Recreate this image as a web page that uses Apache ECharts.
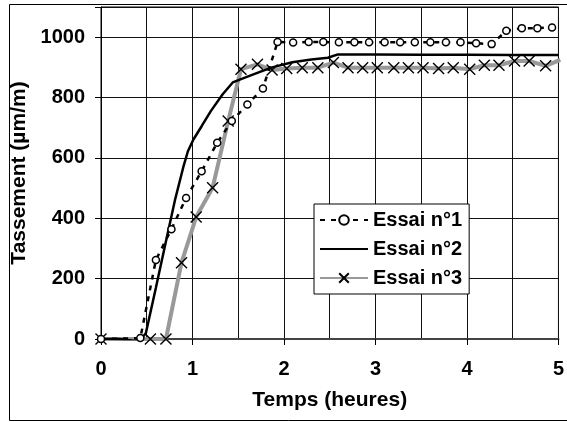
<!DOCTYPE html>
<html>
  <head>
    <meta charset="UTF-8">
    <title>tassement</title>
    <script src="https://cdn.jsdelivr.net/npm/echarts@6/dist/echarts.min.js"></script>
  </head>
  <body style="margin:0;background:#fff;">
	<div id="main" style="width: 567px;height:422px;"></div>
	<script>
// temps (heures) / tassement (µm/m)
var t1 = [0, 0.43, 0.6, 0.77, 0.93, 1.1, 1.27, 1.43, 1.6, 1.77, 1.93, 2.1, 2.27, 2.43, 2.6, 2.77, 2.93, 3.1, 3.27, 3.43, 3.6, 3.77, 3.93, 4.1, 4.27, 4.43, 4.6, 4.77, 4.93];
var v1 = [0, 3, 262, 364, 467, 556, 650, 722, 777, 830, 984, 982, 984, 984, 983, 983, 983, 983, 983, 983, 983, 983, 983, 980, 977, 1021, 1030, 1030, 1032];

var t2 = [0, 0.2, 0.36, 0.43, 0.49, 0.6, 0.7, 0.81, 0.9, 0.95, 1.01, 1.1, 1.2, 1.33, 1.44, 1.53, 1.73, 1.87, 2.09, 2.3, 2.48, 2.59, 3.0, 3.5, 4.0, 4.5, 5.0];
var v2 = [0, 0, -6, -3, 19, 170, 310, 462, 570, 622, 661, 705, 755, 811, 850, 861, 884, 900, 917, 926, 932, 943, 943, 942, 942, 941, 941];

var t3 = [0, 0.54, 0.71, 0.88, 1.04, 1.22, 1.39, 1.53, 1.71, 1.87, 2.03, 2.2, 2.37, 2.54, 2.7, 2.86, 3.02, 3.2, 3.36, 3.52, 3.69, 3.85, 4.03, 4.19, 4.35, 4.52, 4.68, 4.86, 5.02];
var v3 = [0, 0, 0, 253, 404, 501, 722, 894, 910, 891, 896, 899, 899, 916, 899, 899, 899, 899, 899, 899, 896, 899, 894, 907, 907, 921, 921, 905, 925];

var noms = ['Essai n°1', 'Essai n°2', 'Essai n°3'];

function pts(t, v) {
	var d = [];
	for (var i = 0; i < t.length; i++) {
		d.push([t[i], v[i]]);
	}
	return d;
}

var font = 'Liberation Sans, Arial, sans-serif';
var txt = { fontFamily: font, fontWeight: 'bold', fontSize: 21, color: '#000' };
var myChart = echarts.init(document.getElementById('main'));

var option = {
	animation: false,
	graphic: [{
		type: 'rect',
		shape: { x: 9.5, y: 4.5, width: 700, height: 416 },
		style: { fill: 'none', stroke: '#000', lineWidth: 1 },
		z: -1
	}],
	grid: {
		left: 101, right: 5, top: 7, bottom: 83,
		show: true, borderColor: '#000', borderWidth: 1
	},
	legend: {
		orient: 'vertical',
		left: 314, top: 204,
		itemWidth: 48, itemHeight: 12, itemGap: 9,
		padding: [6, 7, 6, 5],
		backgroundColor: '#fff',
		borderColor: '#000', borderWidth: 1,
		textStyle: { fontFamily: font, fontWeight: 'bold', fontSize: 20, color: '#000' },
		data: noms
	},
	xAxis: {
		type: 'value',
		min: 0, max: 5, interval: 1,
		name: 'Temps (heures)',
		nameLocation: 'middle', nameGap: 51,
		nameTextStyle: txt,
		axisLine: { lineStyle: { color: '#444', width: 2 } },
		axisTick: { show: true, length: 6, lineStyle: { color: '#000' } },
		axisLabel: { margin: 20, fontFamily: font, fontWeight: 'bold', fontSize: 20, color: '#000' },
		splitLine: { show: true, lineStyle: { color: '#111', width: 1 } },
		minorTick: { show: false, splitNumber: 2 },
		minorSplitLine: { show: true, lineStyle: { color: '#111', width: 1 } }
	},
	yAxis: {
		type: 'value',
		min: 0, max: 1100, interval: 200,
		name: 'Tassement (µm/m)',
		nameLocation: 'middle', nameGap: 70,
		nameTextStyle: txt,
		axisLine: { show: true, lineStyle: { color: '#000', width: 1 } },
		axisTick: { show: true, length: 6, lineStyle: { color: '#000' } },
		axisLabel: {
			margin: 16, fontFamily: font, fontWeight: 'bold', fontSize: 20, color: '#000',
			formatter: function (v) { return v > 1000 ? '' : v; }
		},
		splitLine: { show: true, lineStyle: { color: '#111', width: 1 } }
	},
	series: [
		{
			name: noms[0],
			type: 'line',
			data: pts(t1, v1),
			symbol: 'circle', symbolSize: 7,
			lineStyle: { color: '#000', width: 2.5, type: [5, 6] },
			itemStyle: { color: '#fff', borderColor: '#000', borderWidth: 1.5 },
			z: 4
		},
		{
			name: noms[1],
			type: 'line',
			data: pts(t2, v2),
			symbol: 'none',
			lineStyle: { color: '#000', width: 2.5 },
			itemStyle: { color: 'transparent' },
			z: 3
		},
		{
			name: noms[2],
			type: 'line',
			data: pts(t3, v3),
			symbol: 'path://M0,0L10,10M10,0L0,10', symbolSize: 11,
			lineStyle: { color: '#999', width: 4 },
			itemStyle: { color: 'none', borderColor: '#000', borderWidth: 1.4 },
			z: 2
		}
	]
};

myChart.setOption(option);
	</script>
  </body>
</html>
